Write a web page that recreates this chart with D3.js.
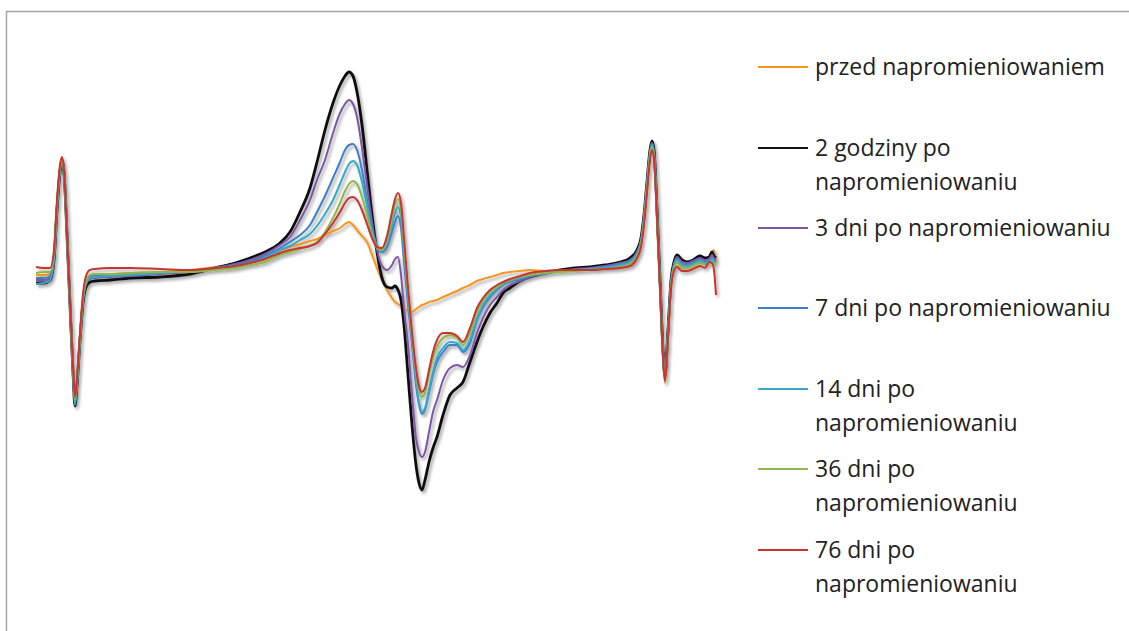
<!DOCTYPE html>
<html>
<head>
<meta charset="utf-8">
<script src="https://cdn.jsdelivr.net/npm/d3@7"></script>
<style>
  html, body { margin: 0; padding: 0; background: #fff; }
  svg { display: block; }
</style>
</head>
<body>
<div id="chart"></div>
<script>
// field position (arbitrary units) shared by every spectrum
const field = [0, 8, 14, 18, 21, 24, 26, 28, 31, 34, 37, 39, 41, 44, 47, 50, 54, 59, 74, 94,
  124, 154, 179, 199, 214, 229, 244, 254, 264, 274, 281, 289, 297, 304, 309, 313, 317, 321, 326, 331,
  336, 341, 346, 351, 356, 359, 362, 365, 368, 372, 376, 380, 383, 386, 389, 393, 397, 401, 407, 414,
  421, 427, 434, 441, 447, 454, 461, 467, 474, 484, 494, 509, 524, 539, 554, 569, 584, 594, 601, 605,
  608, 611, 614, 616, 618, 621, 624, 627, 629, 632, 635, 638, 641, 646, 651, 657, 664, 669, 673, 676,
  678, 680];

const labels = [
  "przed napromieniowaniem",
  "2 godziny po napromieniowaniu",
  "3 dni po napromieniowaniu",
  "7 dni po napromieniowaniu",
  "14 dni po napromieniowaniu",
  "36 dni po napromieniowaniu",
  "76 dni po napromieniowaniu"
];

const przed = [5, 5, 6, 25, 75, 111, 120, 108, 45, -24, -89, -121, -102, -57, -19, -2, 4, 5, 6, 7,
  8, 10, 13, 16, 19, 24, 30, 33, 36, 39, 41, 45, 49, 52, 56, 58, 55, 50, 44, 38,
  25, 12, 0, -10, -18, -22, -24, -26, -28, -31, -32, -29, -27, -25, -24, -22, -21, -20, -17, -14,
  -11, -8, -5, -1, 1, 3, 5, 7, 8, 9, 10, 9, 9, 10, 10, 12, 14, 16, 24, 36,
  58, 91, 124, 133, 125, 65, -6, -77, -103, -58, -8, 12, 18, 14, 13, 15, 18, 16, 18, 28,
  30, 18];

const h2 = [-3, -3, 0, 20, 70, 108, 120, 108, 45, -25, -92, -126, -105, -60, -23, -7, -2, -1, 0, 2,
  3, 6, 12, 17, 22, 28, 37, 48, 68, 92, 118, 150, 177, 195, 204, 208, 204, 188, 155, 110,
  65, 28, 2, -7, -8, -6, -10, -20, -45, -95, -145, -185, -203, -210, -200, -182, -168, -157, -135, -115,
  -108, -102, -82, -62, -47, -33, -23, -13, -8, -1, 3, 7, 10, 12, 13, 15, 18, 22, 30, 42,
  65, 98, 130, 139, 130, 70, 0, -70, -96, -50, 0, 18, 25, 20, 18, 20, 24, 22, 23, 28,
  24, 22];

const d3dni = [0, 0, 2, 22, 72, 110, 120, 108, 45, -25, -90, -122, -102, -58, -20, -4, 1, 2, 3, 4,
  6, 8, 12, 16, 20, 26, 35, 43, 60, 80, 100, 120, 147, 167, 176, 180, 176, 163, 132, 95,
  58, 30, 14, 10, 15, 21, 23, 5, -28, -65, -115, -158, -172, -177, -172, -152, -132, -120, -100, -88,
  -85, -87, -75, -53, -38, -25, -17, -10, -5, -1, 3, 6, 9, 11, 12, 14, 17, 20, 28, 40,
  63, 96, 128, 137, 128, 68, -2, -72, -97, -52, -2, 16, 23, 18, 17, 19, 22, 20, 21, 25,
  22, 20];

const d7 = [2, 2, 4, 24, 74, 111, 121, 109, 46, -24, -90, -123, -103, -58, -20, -3, 3, 4, 5, 6,
  7, 9, 12, 15, 18, 24, 32, 38, 45, 55, 68, 84, 102, 118, 130, 135, 136, 130, 110, 80,
  52, 34, 28, 33, 48, 58, 64, 52, 18, -25, -65, -105, -125, -134, -130, -113, -95, -82, -72, -65,
  -65, -72, -63, -40, -27, -17, -10, -5, -2, 1, 4, 7, 9, 10, 11, 13, 16, 19, 27, 39,
  62, 95, 127, 136, 127, 67, -3, -73, -98, -53, -3, 15, 21, 16, 15, 17, 20, 18, 19, 22,
  20, 18];

const d14 = [-4, -3, 0, 21, 72, 110, 119, 107, 44, -26, -92, -125, -104, -59, -21, -4, 2, 3, 4, 5,
  7, 9, 12, 14, 17, 22, 30, 34, 40, 46, 54, 66, 80, 96, 108, 116, 119, 115, 98, 74,
  48, 33, 29, 37, 55, 67, 73, 62, 28, -18, -60, -100, -122, -132, -128, -110, -92, -78, -68, -62,
  -63, -70, -60, -38, -25, -15, -9, -4, -1, 2, 5, 7, 9, 10, 11, 12, 15, 18, 26, 38,
  61, 94, 126, 135, 126, 66, -4, -74, -99, -54, -4, 14, 20, 15, 14, 16, 19, 17, 18, 21,
  19, 17];

const d36 = [7, 8, 8, 27, 76, 112, 121, 109, 46, -23, -88, -120, -101, -56, -18, -1, 5, 6, 6, 7,
  8, 8, 10, 12, 15, 18, 25, 28, 31, 34, 38, 48, 62, 77, 89, 96, 99, 96, 83, 65,
  45, 32, 30, 40, 62, 75, 81, 70, 35, -12, -55, -92, -110, -117, -113, -95, -78, -66, -58, -55,
  -58, -65, -53, -32, -21, -12, -7, -3, 0, 3, 5, 7, 8, 9, 10, 11, 13, 16, 24, 36,
  59, 92, 124, 133, 124, 65, -5, -75, -100, -55, -6, 12, 17, 12, 12, 14, 17, 15, 16, 18,
  16, 15];

const d76 = [13, 12, 12, 30, 80, 115, 123, 110, 47, -22, -86, -117, -98, -53, -14, 4, 10, 11, 12, 12,
  11, 10, 12, 14, 17, 21, 27, 30, 32, 34, 37, 46, 57, 68, 77, 82, 83, 80, 70, 56,
  42, 33, 32, 44, 68, 81, 87, 77, 42, -8, -52, -88, -106, -112, -108, -90, -72, -60, -53, -53,
  -56, -62, -48, -28, -18, -10, -5, -2, 1, 4, 7, 9, 10, 10, 10, 11, 12, 14, 22, 33,
  55, 87, 120, 130, 122, 63, -7, -76, -101, -57, -9, 9, 13, 9, 9, 11, 14, 12, 18, 17,
  10, -15];

const colors = ["#F7941E", "#111111", "#7E57A8", "#3F7FC8", "#35A9C8", "#8DB84A", "#C9342F"];
const widths = [2, 2.8, 2, 2, 2, 2, 2];
const series = [przed, h2, d3dni, d7, d14, d36, d76];

const W = 1129, H = 631;
const svg = d3.select("#chart").append("svg")
  .attr("width", W)
  .attr("height", H);

// soft shadow like the office chart
const defs = svg.append("defs");
const f = defs.append("filter").attr("id", "shadow")
  .attr("x", "-5%").attr("y", "-5%").attr("width", "110%").attr("height", "110%");
f.append("feDropShadow")
  .attr("dx", 2).attr("dy", 2.5).attr("stdDeviation", 1.8)
  .attr("flood-color", "#000").attr("flood-opacity", 0.35);

// frame (only top and left are visible)
svg.append("path")
  .attr("d", "M6.5,640V11.5H1140")
  .attr("fill", "none")
  .attr("stroke", "#A6A6A6")
  .attr("stroke-width", 1.5);

const x = d3.scaleLinear().domain([0, 680]).range([36, 716]);
const y = d3.scaleLinear().domain([-250, 250]).range([530, 30]);

const line = d3.line()
  .x((d, i) => x(field[i]))
  .y(d => y(d))
  .curve(d3.curveMonotoneX);

const g = svg.append("g").attr("filter", "url(#shadow)");
series.forEach((s, k) => {
  g.append("path")
    .datum(s)
    .attr("d", line)
    .attr("fill", "none")
    .attr("stroke", colors[k])
    .attr("stroke-width", widths[k])
    .attr("stroke-linejoin", "round");
});

// legend
const legY = [67, 148, 228, 308, 389, 469, 550];
const leg = svg.append("g").attr("font-family", "'Open Sans', sans-serif")
  .attr("font-size", 23).attr("fill", "#222");

labels.forEach((lab, k) => {
  leg.append("line")
    .attr("x1", 758).attr("x2", 808)
    .attr("y1", legY[k]).attr("y2", legY[k])
    .attr("stroke", colors[k]).attr("stroke-width", 2);
  const t = leg.append("text").attr("x", 815).attr("y", legY[k]);
  let parts = [lab];
  if (k === 1 || k >= 4) {
    const cut = lab.lastIndexOf(" ");
    parts = [lab.slice(0, cut), lab.slice(cut + 1)];
  }
  parts.forEach((p, j) => {
    t.append("tspan").attr("x", 815).attr("dy", j === 0 ? "0.35em" : 34).text(p);
  });
});
</script>
</body>
</html>
